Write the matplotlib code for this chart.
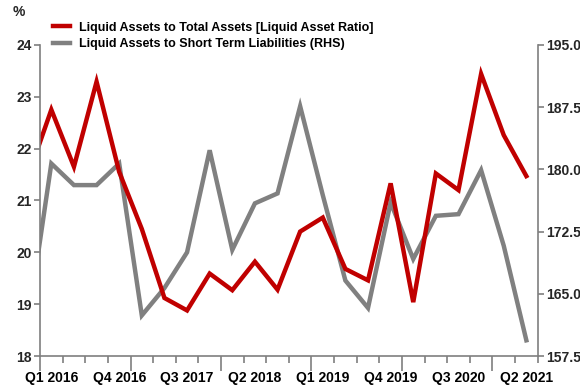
#!/usr/bin/env python3
"""Liquid asset ratio vs liquid assets to short term liabilities,
quarterly, with the second series on the right-hand axis."""

import matplotlib
matplotlib.use('Agg')
import matplotlib.pyplot as plt
from matplotlib.lines import Line2D

plt.rcParams['font.family'] = ['Liberation Sans', 'DejaVu Sans']

# Q4 2015 .. Q2 2021 (Q4 2015 sits just left of the visible range)
QUARTERS = [
    'Q4 2015',
    'Q1 2016', 'Q2 2016', 'Q3 2016', 'Q4 2016',
    'Q1 2017', 'Q2 2017', 'Q3 2017', 'Q4 2017',
    'Q1 2018', 'Q2 2018', 'Q3 2018', 'Q4 2018',
    'Q1 2019', 'Q2 2019', 'Q3 2019', 'Q4 2019',
    'Q1 2020', 'Q2 2020', 'Q3 2020', 'Q4 2020',
    'Q1 2021', 'Q2 2021',
]
LIQ_RATIO = [
    21.50,
    22.75, 21.65, 23.29, 21.55,
    20.45, 19.12, 18.88, 19.59,
    19.27, 19.82, 19.28, 20.40,
    20.67, 19.68, 19.46, 21.33,
    19.04, 21.52, 21.20, 23.44,
    22.26, 21.47,
]
LIQ_TO_STL = [
    162.1,
    180.7, 178.1, 178.1, 180.7,
    162.4, 165.7, 170.0, 182.3,
    170.3, 175.9, 177.1, 187.6,
    176.9, 166.6, 163.3, 176.0,
    169.2, 174.4, 174.6, 179.9,
    170.8, 159.4,
]
LABEL_EVERY = 3
LEFT_TICKS = [18, 19, 20, 21, 22, 23, 24]
RIGHT_TICKS = [157.5, 165.0, 172.5, 180.0, 187.5, 195.0]

RED = '#c00000'
GREY = '#808080'
AXIS = '#7f7f7f'


def main():
    fig = plt.figure(figsize=(5.8, 3.9), dpi=100)
    ax = fig.add_axes([0.069, 0.087, 0.858, 0.798])
    ax2 = ax.twinx()

    x = list(range(len(QUARTERS)))
    ax2.plot(x, LIQ_TO_STL, color=GREY, lw=3.2, solid_joinstyle='miter')
    ax.plot(x, LIQ_RATIO, color=RED, lw=3.2, solid_joinstyle='miter')
    # red series drawn above the grey one
    ax.set_zorder(ax2.get_zorder() + 1)
    ax.patch.set_visible(False)

    ax.set_xlim(0.5, len(QUARTERS) - 0.5)
    ax.set_ylim(18, 24)
    ax2.set_ylim(157.5, 195)
    ax.set_yticks(LEFT_TICKS)
    ax2.set_yticks(RIGHT_TICKS)
    ax2.set_yticklabels([f'{v:.1f}' for v in RIGHT_TICKS])

    # tick marks on quarter boundaries, longer at year boundaries
    bounds = [i + 0.5 for i in range(len(QUARTERS))]
    year_b = [b for b in bounds
              if b + 0.5 < len(QUARTERS) and QUARTERS[int(b + 0.5)].startswith('Q1')]
    ax.set_xticks(year_b)
    ax.set_xticklabels([])
    ax.set_xticks([b for b in bounds if b not in year_b], minor=True)
    ax.tick_params(axis='x', which='major', length=11, width=1.2,
                   color=AXIS, direction='out')
    ax.tick_params(axis='x', which='minor', length=5, width=1.2,
                   color=AXIS, direction='out')

    lab_pos = list(range(1, len(QUARTERS), LABEL_EVERY))
    sec = ax.secondary_xaxis('bottom')
    sec.set_xticks(lab_pos)
    sec.set_xticklabels([QUARTERS[i] for i in lab_pos])
    sec.tick_params(length=0, pad=11, labelsize=10)
    for lbl in sec.get_xticklabels():
        lbl.set_fontweight('bold')
    sec.spines['bottom'].set_visible(False)

    for a in (ax, ax2):
        a.spines['top'].set_visible(False)
        for s in ('left', 'right', 'bottom'):
            a.spines[s].set_color(AXIS)
            a.spines[s].set_linewidth(1.2)
    ax.spines['right'].set_visible(False)
    ax2.spines['left'].set_visible(False)
    ax2.spines['bottom'].set_visible(False)

    ax.tick_params(axis='y', length=4, width=1.2, color=AXIS,
                   labelsize=10, pad=2)
    ax2.tick_params(axis='y', length=4, width=1.2, color=AXIS,
                    labelsize=10, pad=2)
    for lbl in ax.get_yticklabels() + ax2.get_yticklabels():
        lbl.set_fontweight('bold')
        lbl.set_color('#262626')

    handles = [Line2D([], [], color=RED, lw=3.2),
               Line2D([], [], color=GREY, lw=3.2)]
    labels = ['Liquid Assets to Total Assets [Liquid Asset Ratio]',
              'Liquid Assets to Short Term Liabilities (RHS)']
    fig.legend(handles, labels, loc='upper left',
               bbox_to_anchor=(0.077, 0.967), frameon=False,
               prop={'size': 9, 'weight': 'bold'},
               handlelength=1.35, handletextpad=0.7, labelspacing=0.38,
               borderaxespad=0.3)

    fig.text(0.022, 0.968, '%', fontsize=10, fontweight='bold',
             color='#262626', ha='left', va='center')

    fig.savefig('out.png', dpi=100)


if __name__ == '__main__':
    main()
